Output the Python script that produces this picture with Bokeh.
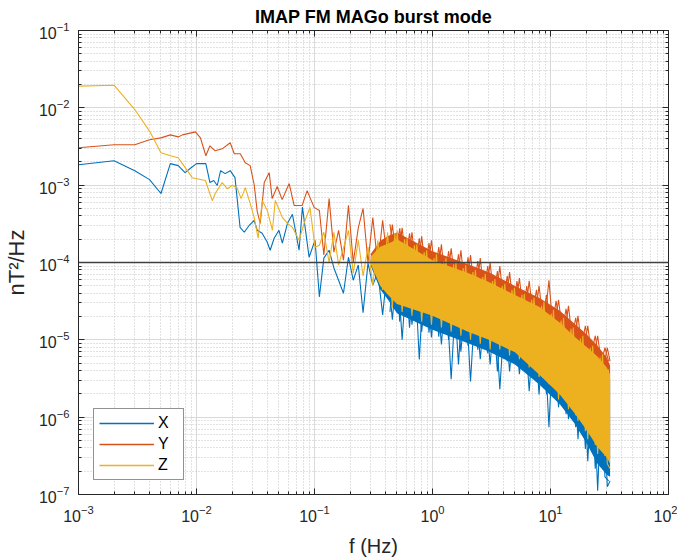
from bokeh.plotting import figure
from bokeh.models import FixedTicker, Span, Legend, LegendItem, LogAxis
from bokeh.embed import file_html
from bokeh.resources import INLINE

title_text = "IMAP FM MAGo burst mode"
x_label = "f (Hz)"
y_label = "nT\u00b2/Hz"
series_names = ["X", "Y", "Z"]
series_colors = ["#0072BD", "#D95319", "#EDB120"]

x_major_ticks = [1e-3, 1e-2, 1e-1, 1e0, 1e1, 1e2]
y_major_ticks = [1e-7, 1e-6, 1e-5, 1e-4, 1e-3, 1e-2, 1e-1]
ref_level = 1e-4

# ---- low-frequency part (distinct lines) ----
freq_x_lf = [0.001, 0.002, 0.003, 0.004, 0.005, 0.006, 0.007, 0.008, 0.009, 0.01,
             0.012, 0.013, 0.014, 0.015, 0.016, 0.0175, 0.0193, 0.0212, 0.0234, 0.0254,
             0.028, 0.0308, 0.0327, 0.036, 0.0398, 0.0421, 0.0455, 0.05, 0.0534, 0.059,
             0.065, 0.074, 0.079, 0.09, 0.101]
psd_x_lf = [1.84e-3, 2.07e-3, 1.54e-3, 1.18e-3, 7.8e-4, 1.9e-3, 1.79e-3, 1.45e-3, 1.68e-3, 1.9e-3,
            1.9e-3, 1.08e-3, 1.15e-3, 9.9e-4, 1.54e-3, 1.41e-3, 1.54e-3, 1.25e-3, 2.85e-4, 2.46e-4,
            3.03e-4, 3.51e-4, 2.61e-4, 2.39e-4, 1.83e-4, 1.44e-4, 2.06e-4, 2.61e-4, 1.78e-4, 3.21e-4,
            4.2e-4, 1.44e-4, 5.2e-4, 1.17e-4, 1.94e-4]

freq_y_lf = [0.001, 0.002, 0.003, 0.004, 0.005, 0.006, 0.007, 0.0076, 0.0098, 0.0108,
             0.012, 0.013, 0.0144, 0.0165, 0.0193, 0.0209, 0.0235, 0.0259, 0.0285, 0.0308,
             0.0327, 0.0347, 0.0375, 0.0413, 0.0438, 0.0483, 0.0532, 0.061, 0.0672, 0.0786,
             0.0866, 0.0992]
psd_y_lf = [3.04e-3, 3.33e-3, 3.33e-3, 3.86e-3, 4.09e-3, 4.47e-3, 4.21e-3, 4.47e-3, 4.89e-3, 4.09e-3,
            2.4e-3, 3.23e-3, 2.78e-3, 2.95e-3, 3.53e-3, 2.55e-3, 2.55e-3, 1.95e-3, 1.79e-3, 1.02e-3,
            4.58e-4, 3.21e-4, 1.08e-3, 1.45e-3, 6.7e-4, 9.6e-4, 6.5e-4, 1.05e-3, 5.47e-4, 5.47e-4,
            8.5e-4, 5.16e-4]

freq_z_lf = [0.001, 0.002, 0.003, 0.004, 0.005, 0.006, 0.007, 0.0076, 0.0092, 0.0119,
             0.0136, 0.0144, 0.0165, 0.0182, 0.02, 0.022, 0.0239, 0.0259, 0.0285, 0.0308,
             0.0333, 0.0361, 0.0398, 0.044, 0.0465, 0.0534, 0.059, 0.065, 0.074, 0.0816,
             0.0915, 0.101]
psd_z_lf = [0.0191, 0.0196, 0.0095, 5.0e-3, 2.62e-3, 2.4e-3, 2.26e-3, 1.9e-3, 1.25e-3, 1.15e-3,
            6.3e-4, 7.8e-4, 1.08e-3, 9.0e-4, 9.9e-4, 9.3e-4, 6.7e-4, 9.3e-4, 5.8e-4, 3.83e-4,
            2.06e-4, 6.34e-4, 4.72e-4, 2.61e-4, 6.34e-4, 3.83e-4, 3.21e-4, 2.85e-4, 1.94e-4, 3.21e-4,
            5.16e-4, 1.58e-4]

# ---- high-frequency part (dense spiky spectrum, sampled) ----
freq_hf = [0.11, 0.12, 0.133, 0.146, 0.16, 0.176, 0.194, 0.213, 0.235, 0.258,
           0.284, 0.312, 0.344, 0.378, 0.416, 0.457, 0.503, 0.553, 0.609, 0.67,
           0.737, 0.81, 0.891, 0.98, 1.08, 1.19, 1.3, 1.44, 1.58, 1.74,
           1.91, 2.1, 2.31, 2.54, 2.8, 3.08, 3.38, 3.72, 4.1, 4.5,
           4.95, 5.45, 6.0, 6.6, 7.25, 8.0, 8.8, 9.7, 10.6, 11.7,
           12.9, 14.2, 15.6, 17.1, 18.8, 20.7, 22.8, 25.1, 27.6, 30.3,
           32.0]
psd_x_hf = [3.6e-5, 1.14e-4, 1.44e-4, 8.5e-5, 5.9e-5, 4.0e-5, 1.17e-4, 5.9e-5, 9.3e-5, 2.24e-5,
            9.8e-5, 5.1e-5, 7.5e-5, 2.1e-5, 8.7e-5, 1.82e-5, 1.0e-4, 1.0e-5, 8.5e-5, 1.57e-5,
            7.5e-5, 1.27e-5, 6.3e-5, 1.07e-5, 5.6e-5, 8.7e-6, 5.0e-5, 3.1e-6, 4.4e-5, 7.0e-6,
            3.9e-5, 2.9e-6, 3.5e-5, 5.6e-6, 3.1e-5, 4.8e-6, 2.75e-5, 2.3e-6, 2.44e-5, 3.9e-6,
            2.17e-5, 3.6e-6, 1.93e-5, 2.16e-6, 1.71e-5, 1.97e-6, 1.52e-5, 7.4e-7, 1.35e-5, 1.34e-6,
            1.13e-5, 9.4e-7, 8.4e-6, 5.2e-7, 6.9e-6, 2.7e-7, 5.1e-6, 1.12e-7, 3.8e-6, 1.26e-7,
            1.5e-7]
psd_y_hf = [4.7e-4, 1.25e-4, 6.7e-4, 1.36e-4, 2.6e-4, 1.07e-4, 5.5e-4, 1.0e-4, 2.8e-4, 5.0e-4,
            1.0e-4, 3.8e-4, 9.3e-5, 3.5e-4, 1.0e-4, 3.1e-4, 8.5e-5, 2.8e-4, 7.5e-5, 2.46e-4,
            6.7e-5, 2.18e-4, 5.9e-5, 1.94e-4, 5.1e-5, 1.72e-4, 4.4e-5, 1.53e-4, 4.0e-5, 1.44e-4,
            3.7e-5, 1.25e-4, 3.3e-5, 1.14e-4, 2.8e-5, 1.0e-4, 2.44e-5, 9.0e-5, 2.17e-5, 7.5e-5,
            1.93e-5, 6.3e-5, 1.71e-5, 5.8e-5, 1.52e-5, 5.0e-5, 1.35e-5, 5.9e-5, 1.17e-5, 3.3e-5,
            9.5e-6, 2.75e-5, 7.5e-6, 2.05e-5, 5.9e-6, 1.52e-5, 4.8e-6, 1.13e-5, 3.9e-6, 7.9e-6,
            5.25e-6]
psd_z_hf = [1.67e-4, 2.46e-4, 1.0e-4, 2.46e-4, 9.3e-5, 1.53e-4, 2.6e-4, 7.3e-5, 1.94e-4, 6.7e-5,
            1.58e-4, 5.1e-5, 1.94e-4, 4.4e-5, 2.46e-4, 2.6e-5, 2.6e-4, 2.3e-5, 2.06e-4, 2.05e-5,
            1.72e-4, 1.71e-5, 1.44e-4, 1.57e-5, 1.28e-4, 1.44e-5, 1.14e-4, 1.27e-5, 1.0e-4, 1.13e-5,
            9.3e-5, 1.0e-5, 8.0e-5, 8.9e-6, 7.1e-5, 7.5e-6, 6.1e-5, 7.5e-6, 5.3e-5, 6.3e-6,
            4.7e-5, 5.6e-6, 3.9e-5, 4.4e-6, 3.5e-5, 3.3e-6, 3.1e-5, 2.66e-6, 2.44e-5, 1.7e-6,
            1.93e-5, 1.27e-6, 1.44e-5, 8.9e-7, 1.13e-5, 5.2e-7, 8.4e-6, 3.35e-7, 6.5e-6, 2.5e-7,
            2.15e-7]

# second set of samples in the dense region (between the first ones)
freq_hf2 = [0.436, 0.48, 0.528, 0.58, 0.639, 0.703, 0.773, 0.85, 0.934, 1.03,
            1.13, 1.245, 1.37, 1.51, 1.66, 1.82, 2.0, 2.2, 2.42, 2.67,
            2.94, 3.23, 3.55, 3.9, 4.3, 4.72, 5.2, 5.72, 6.3, 6.92,
            7.6, 8.4, 9.25, 10.15, 11.15, 12.3, 13.55, 14.9, 16.35, 17.95,
            19.75, 21.75, 23.95, 26.35, 28.95, 31.1]
psd_x_hf2 = [2.3e-5, 1.36e-4, 1.71e-5, 1.14e-4, 1.44e-5, 9.5e-5, 5.56e-6, 8.0e-5, 1.24e-5, 6.7e-5,
             1.1e-5, 5.94e-5, 1.0e-5, 5.44e-5, 4.8e-6, 4.83e-5, 8.4e-6, 4.29e-5, 7.48e-6, 3.7e-5,
             6.65e-6, 3.29e-5, 3.9e-6, 2.83e-5, 5.25e-6, 2.52e-5, 4.66e-6, 2.17e-5, 3.9e-6, 1.87e-5,
             2.9e-6, 1.57e-5, 1.97e-6, 1.27e-5, 1.7e-6, 1.0e-5, 1.09e-6, 7.9e-6, 7.4e-7, 5.9e-6,
             3.88e-7, 4.39e-6, 2.15e-7, 3.27e-6, 1.69e-7, 1.5e-7]
psd_y_hf2 = [3.12e-4, 1.01e-4, 2.77e-4, 8.5e-5, 2.39e-4, 7.5e-5, 2.06e-4, 6.3e-5, 1.78e-4, 5.6e-5,
             1.58e-4, 4.97e-5, 1.4e-4, 4.42e-5, 1.28e-4, 4.04e-5, 1.17e-4, 3.7e-5, 1.04e-4, 3.29e-5,
             9.0e-5, 2.83e-5, 7.75e-5, 2.44e-5, 6.7e-5, 2.17e-5, 5.77e-5, 1.93e-5, 4.97e-5, 1.71e-5,
             4.42e-5, 1.52e-5, 3.81e-5, 1.27e-5, 3.19e-5, 1.07e-5, 2.52e-5, 8.7e-6, 1.93e-5, 7.05e-6,
             1.52e-5, 5.56e-6, 1.13e-5, 4.39e-6, 7.9e-6, 5.25e-6]
psd_z_hf2 = [3.81e-5, 2.39e-4, 3.0e-5, 2.0e-4, 2.67e-5, 1.67e-4, 2.52e-5, 1.36e-4, 2.17e-5, 1.14e-4,
             1.93e-5, 1.04e-4, 1.66e-5, 9.5e-5, 1.52e-5, 8.5e-5, 1.35e-5, 7.5e-5, 1.2e-5, 6.5e-5,
             1.07e-5, 5.77e-5, 9.5e-6, 4.97e-5, 8.4e-6, 4.42e-5, 6.85e-6, 3.81e-5, 5.4e-6, 3.29e-5,
             4.26e-6, 2.75e-5, 3.37e-6, 2.17e-5, 2.5e-6, 1.77e-5, 1.7e-6, 1.39e-5, 1.06e-6, 1.04e-5,
             6.6e-7, 7.9e-6, 4.37e-7, 5.9e-6, 3.15e-7, 4.14e-6]

# ---- envelope of the dense band core ----
freq_band = [0.3, 0.36, 0.42, 0.5, 1, 2, 3, 5, 8, 12, 16, 20, 25, 30, 32]
band_x_low = [9.0e-5, 4.5e-5, 3.3e-5, 2.2e-5, 1.35e-5, 9.0e-6, 7.05e-6, 4.8e-6, 2.66e-6, 1.47e-6, 8.3e-7, 4.75e-7, 2.49e-7, 1.8e-7, 1.7e-7]
band_x_high = [1.1e-4, 1.3e-4, 1.2e-4, 1.5e-4, 9.26e-5, 6.3e-5, 4.83e-5, 3.29e-5, 2.3e-5, 1.44e-5, 9.5e-6, 7.05e-6, 5.25e-6, 3.79e-6, 3.08e-6]
band_y_low = [1.0e-4, 6.0e-5, 4.5e-5, 3.8e-5, 2.6e-5, 1.57e-5, 1.17e-5, 9.5e-6, 4.8e-6, 2.43e-6, 1.35e-6, 8.1e-7, 4.9e-7, 3.66e-7, 2.9e-7]
band_y_high = [1.3e-4, 1.9e-4, 2.2e-4, 2.45e-4, 1.4e-4, 9.5e-5, 7.5e-5, 4.97e-5, 3.49e-5, 2.37e-5, 1.61e-5, 1.2e-5, 8.4e-6, 5.9e-6, 4.66e-6]
band_z_low = [9.5e-5, 5.0e-5, 3.8e-5, 2.9e-5, 2.05e-5, 1.27e-5, 1.0e-5, 6.9e-6, 3.57e-6, 1.97e-6, 1.12e-6, 7.0e-7, 4.1e-7, 3.0e-7, 2.49e-7]
band_z_high = [1.2e-4, 1.6e-4, 1.75e-4, 2.0e-4, 1.07e-4, 7.3e-5, 5.6e-5, 3.81e-5, 2.67e-5, 1.66e-5, 1.1e-5, 8.2e-6, 6.1e-6, 4.39e-6, 3.57e-6]

FONT = "Liberation Sans"
TXT = "#262626"

p = figure(width=677, height=559, x_axis_type="log", y_axis_type="log",
           x_range=(x_major_ticks[0], x_major_ticks[-1]),
           y_range=(y_major_ticks[0], y_major_ticks[-1]),
           output_backend="svg", toolbar_location=None,
           min_border_left=76, min_border_right=9, min_border_top=29, min_border_bottom=60)

x_minor = [m * t for t in x_major_ticks[:-1] for m in range(2, 10)]
y_minor = [m * t for t in y_major_ticks[:-1] for m in range(2, 10)]
xt = FixedTicker(ticks=x_major_ticks, minor_ticks=x_minor)
yt = FixedTicker(ticks=y_major_ticks, minor_ticks=y_minor)
p.xaxis.ticker = xt
p.yaxis.ticker = yt
p.xgrid.ticker = xt
p.ygrid.ticker = yt

for g in (p.xgrid, p.ygrid):
    g.grid_line_color = "#DADADA"
    g.grid_line_width = 1
    g.minor_grid_line_color = "#C4C4C4"
    g.minor_grid_line_dash = "1 2"
    g.minor_grid_line_width = 1

for ax in (p.xaxis, p.yaxis):
    ax.major_tick_in = 6
    ax.major_tick_out = 0
    ax.minor_tick_in = 3
    ax.minor_tick_out = 0
    ax.axis_line_color = TXT
    ax.major_tick_line_color = TXT
    ax.minor_tick_line_color = TXT
    ax.major_label_text_font = FONT
    ax.major_label_text_font_size = "16px"
    ax.major_label_text_color = TXT
    ax.axis_label_text_font = FONT
    ax.axis_label_text_font_style = "normal"
    ax.axis_label_text_color = TXT

p.xaxis.axis_label = x_label
p.yaxis.axis_label = y_label
p.xaxis.axis_label_text_font_size = "20px"
p.yaxis.axis_label_text_font_size = "22px"
p.xaxis.major_label_standoff = 10
p.yaxis.major_label_standoff = 9
p.xaxis.axis_label_standoff = 10
p.yaxis.axis_label_standoff = 7

# box ticks on top and right (labels invisible)
top_ax = LogAxis(ticker=xt, major_label_text_font_size="1px", major_label_text_alpha=0,
                 major_label_standoff=0,
                 major_tick_in=6, major_tick_out=0, minor_tick_in=3, minor_tick_out=0,
                 axis_line_color=TXT, major_tick_line_color=TXT, minor_tick_line_color=TXT)
right_ax = LogAxis(ticker=yt, major_label_text_font_size="1px", major_label_text_alpha=0,
                   major_label_standoff=0,
                   major_tick_in=6, major_tick_out=0, minor_tick_in=3, minor_tick_out=0,
                   axis_line_color=TXT, major_tick_line_color=TXT, minor_tick_line_color=TXT)
p.add_layout(top_ax, "above")
p.add_layout(right_ax, "right")

p.outline_line_color = TXT
p.outline_line_width = 1

p.title.text = title_text
p.title.align = "center"
p.title.text_font = FONT
p.title.text_font_size = "18px"
p.title.text_font_style = "bold"
p.title.text_color = "#000000"
p.title.standoff = 8

p.add_layout(Span(location=ref_level, dimension="width", line_color="#404040", line_width=1.3))

sets = [(freq_x_lf, psd_x_lf, psd_x_hf, psd_x_hf2, band_x_low, band_x_high),
        (freq_y_lf, psd_y_lf, psd_y_hf, psd_y_hf2, band_y_low, band_y_high),
        (freq_z_lf, psd_z_lf, psd_z_hf, psd_z_hf2, band_z_low, band_z_high)]

for (flf, plf, phf, phf2, blo, bhi), col in zip(sets, series_colors):
    p.varea(x=freq_band, y1=blo, y2=bhi, fill_color=col, fill_alpha=1.0)
    p.line(flf + freq_hf, plf + phf, line_color=col, line_width=1.1)
    p.line(freq_hf2, phf2, line_color=col, line_width=1.1)

# legend-only renderers: a single sample point each, so nothing is drawn in the plot
items = []
for (flf, plf, *_), name, col in zip(sets, series_names, series_colors):
    lr = p.line(x=flf[:1], y=plf[:1], line_color=col, line_width=1.3)
    items.append(LegendItem(label=name, renderers=[lr]))

legend = Legend(items=items, location=(15, 14), orientation="vertical")
legend.label_text_font = FONT
legend.label_text_font_size = "16px"
legend.label_text_color = "#000000"
legend.glyph_width = 55
legend.glyph_height = 18
legend.label_height = 18
legend.spacing = 3
legend.padding = 5
legend.margin = 0
legend.label_standoff = 4
legend.border_line_color = TXT
legend.border_line_width = 1
legend.background_fill_color = "white"
legend.background_fill_alpha = 1
p.add_layout(legend)

open("out.html", "w").write(file_html(p, INLINE))
